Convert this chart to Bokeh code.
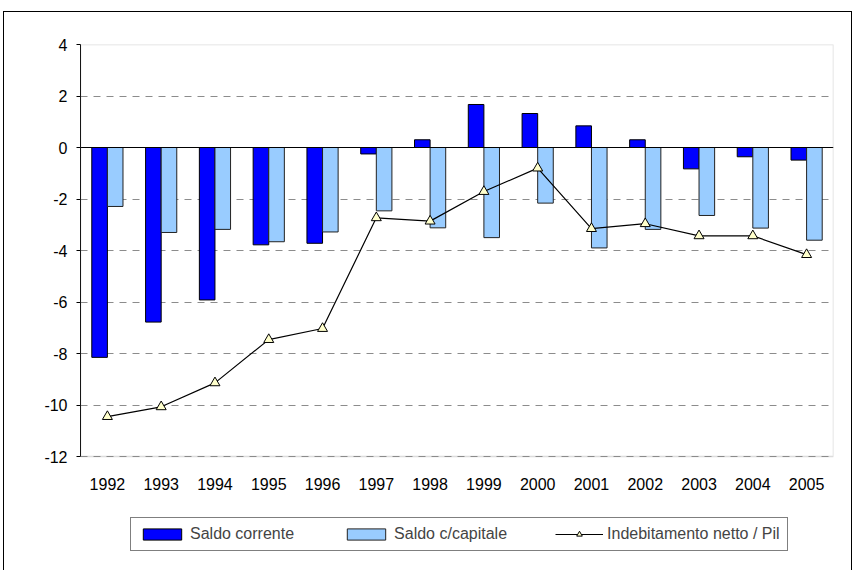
from bokeh.plotting import figure
from bokeh.models import (FactorRange, Range1d, FixedTicker, Legend, LegendItem, Span,
                          ColumnDataSource, BoxAnnotation, LabelSet)
from bokeh.core.properties import value
from bokeh.transform import dodge
from bokeh.embed import file_html
from bokeh.resources import INLINE

years = ["1992", "1993", "1994", "1995", "1996", "1997", "1998",
         "1999", "2000", "2001", "2002", "2003", "2004", "2005"]
saldo_corrente = [-8.15, -6.78, -5.92, -3.78, -3.72, -0.25, 0.30,
                  1.67, 1.32, 0.84, 0.30, -0.83, -0.36, -0.49]
saldo_capitale = [-2.29, -3.30, -3.18, -3.66, -3.28, -2.46, -3.12,
                  -3.50, -2.16, -3.90, -3.18, -2.64, -3.13, -3.60]
indebitamento = [-10.45, -10.07, -9.14, -7.46, -7.03, -2.73, -2.86,
                 -1.71, -0.80, -3.15, -2.96, -3.43, -3.43, -4.16]
y_ticks = [-12, -10, -8, -6, -4, -2, 0, 2, 4]

FONT = "Liberation Sans"
Y_MIN, Y_MAX = -12, 4
PLOT_H = 412          # height of the value area in px
FRAME_H = 526         # frame also hosts the legend below the value area
y_start = Y_MAX - (Y_MAX - Y_MIN) * FRAME_H / PLOT_H

src = ColumnDataSource(dict(x=years, sc=saldo_corrente, sk=saldo_capitale, ind=indebitamento))

p = figure(x_range=FactorRange(*years), y_range=Range1d(y_start, Y_MAX),
           frame_width=753, frame_height=FRAME_H,
           min_border_left=76, min_border_right=18, min_border_top=32, min_border_bottom=0,
           output_backend="svg", toolbar_location=None)
p.styles = {"border-top": "1px solid black", "border-left": "1px solid black",
            "border-right": "1px solid black", "margin-top": "11px", "margin-left": "3px"}

bw = 0.29
r1 = p.vbar(x=dodge("x", -bw / 2, range=p.x_range), top="sc", width=bw, source=src,
            fill_color="#0000FF", line_color="black", line_width=1)
r2 = p.vbar(x=dodge("x", bw / 2, range=p.x_range), top="sk", width=bw, source=src,
            fill_color="#99CCFF", line_color="#222222", line_width=1)

p.add_layout(Span(location=0, dimension="width", line_color="black", line_width=1))

r3 = p.line(x="x", y="ind", source=src, line_color="black", line_width=1.2)
r4 = p.scatter(x="x", y="ind", source=src, marker="triangle", size=10,
               fill_color="#FFFFCC", line_color="black", line_width=1)

# plot-area border (grey) spanning the value area only
p.add_layout(BoxAnnotation(bottom=Y_MIN, top=Y_MAX, fill_alpha=0, fill_color=None,
                           line_color="#8c8c8c", line_width=1.5))

# y axis
p.yaxis.ticker = FixedTicker(ticks=y_ticks)
p.yaxis.bounds = (Y_MIN, Y_MAX)
p.yaxis.major_label_overrides = {t: str(t) for t in y_ticks}
p.yaxis.axis_line_color = "black"
p.yaxis.major_tick_line_color = "black"
p.yaxis.major_tick_out = 4
p.yaxis.major_tick_in = 0
p.yaxis.minor_tick_line_color = None
p.yaxis.major_label_standoff = 9
p.yaxis.major_label_text_font = FONT
p.yaxis.major_label_text_font_size = "16px"
p.yaxis.major_label_text_color = "black"

# category labels under the value area
p.xaxis.visible = False
p.add_layout(LabelSet(x="x", y=Y_MIN, text="x", source=src, y_offset=-27,
                      text_align="center", text_baseline="middle",
                      text_font=value(FONT), text_font_size=value("16px"),
                      text_color="black"))

p.xgrid.grid_line_color = None
p.ygrid.grid_line_color = "#8c8c8c"
p.ygrid.grid_line_dash = "7 6"
p.ygrid.grid_line_width = 1

p.outline_line_color = None
p.background_fill_color = "white"
p.border_fill_color = "white"

legend = Legend(items=[
    LegendItem(label="Saldo corrente", renderers=[r1]),
    LegendItem(label="Saldo c/capitale", renderers=[r2]),
    LegendItem(label="Indebitamento netto / Pil", renderers=[r3, r4]),
], orientation="horizontal", location=(50, 19), padding=7, spacing=48,
    glyph_width=48, glyph_height=14, label_standoff=4,
    label_text_font=FONT, label_text_font_size="16px",
    border_line_color="black", border_line_width=1, margin=0)
p.add_layout(legend, "center")

open("out.html", "w").write(file_html(p, INLINE))
